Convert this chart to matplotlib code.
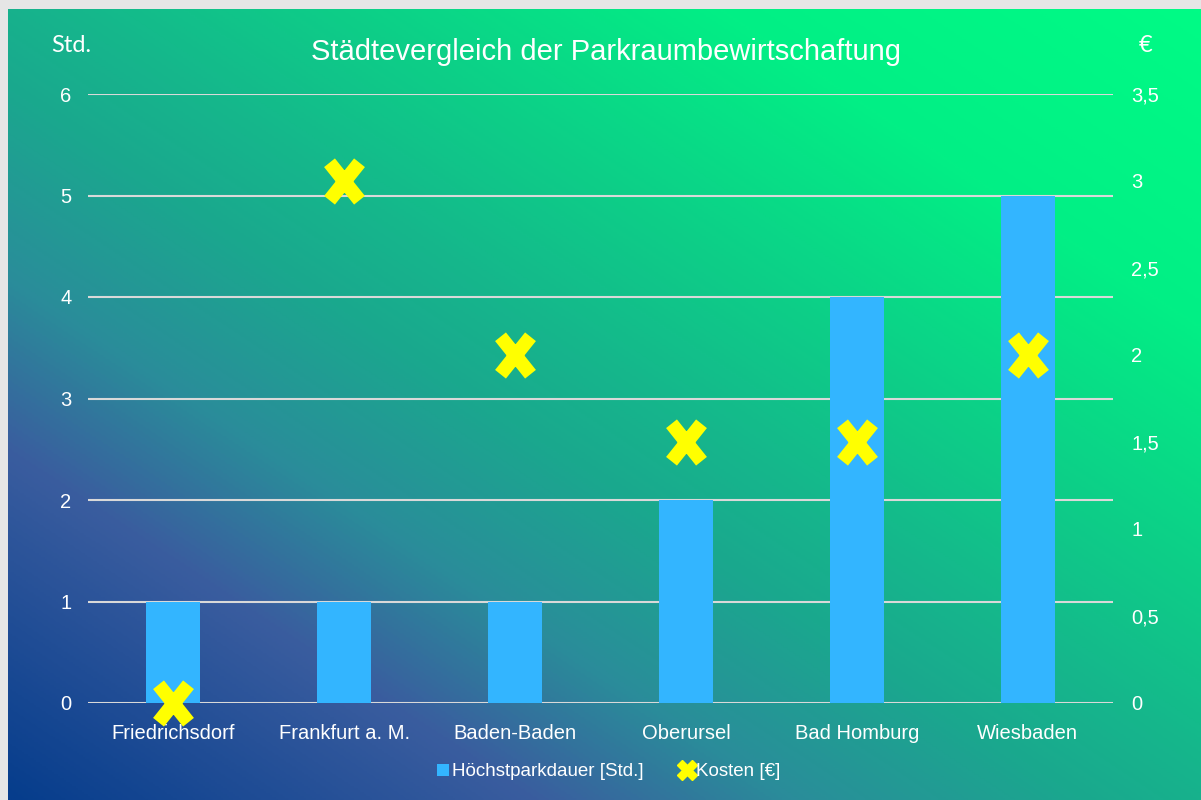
import numpy as np
import matplotlib
matplotlib.use("Agg")
import matplotlib.pyplot as plt
import matplotlib.colors as mcolors
from matplotlib.path import Path
from matplotlib.lines import Line2D
from matplotlib.patches import Patch

# data
staedte = ["Friedrichsdorf", "Frankfurt a. M.", "Baden-Baden", "Oberursel", "Bad Homburg", "Wiesbaden"]
hoechstparkdauer = [1, 1, 1, 2, 4, 5]        # Std.
kosten = [0, 3, 2, 1.5, 1.5, 2]              # EUR
std_ticks = [0, 1, 2, 3, 4, 5, 6]
eur_ticks = [0, 0.5, 1, 1.5, 2, 2.5, 3, 3.5]

NARROW = ["Liberation Sans Narrow", "Liberation Sans", "DejaVu Sans"]
plt.rcParams["font.family"] = NARROW

W, H = 1201, 800
fig = plt.figure(figsize=(W / 100, H / 100), dpi=100, facecolor="#e6e6e6")

# diagonal gradient background (dark blue bottom-left -> bright green top-right)
bg = fig.add_axes([8 / W, 0, 1 - 8 / W, (H - 9) / H])
bg.set_axis_off()
gx, gy = np.meshgrid(np.linspace(0, 1, 600), np.linspace(1, 0, 400))
t = (gx + gy) / 2
grad = mcolors.LinearSegmentedColormap.from_list("bg", [
    (0.0, "#063d8c"), (0.22, "#3a5d9f"), (0.33, "#2a8d9a"), (0.45, "#1aa88e"),
    (0.52, "#16b58c"), (0.63, "#0ecc88"), (0.8, "#02ef85"), (1.0, "#00fb85")])
bg.imshow(t, cmap=grad, aspect="auto", extent=[0, 1, 0, 1], vmin=0, vmax=1)

# main plot area
ax = fig.add_axes([88 / W, (H - 703) / H, (1113 - 88) / W, (703 - 94) / H])
ax.patch.set_alpha(0)
x = np.arange(len(staedte))
ax.bar(x, hoechstparkdauer, width=0.316, color="#33b5ff", zorder=2)
ax.set_xlim(-0.5, len(staedte) - 0.5)
ax.set_ylim(0, 6)
ax.set_yticks(std_ticks)
ax.set_yticklabels([str(v) for v in std_ticks])
ax.set_xticks(x)
ax.set_xticklabels(staedte)
ax.set_axisbelow(True)
ax.grid(axis="y", color="#d9d9d9", linewidth=1.5)
for s in ax.spines.values():
    s.set_visible(False)
ax.tick_params(length=0, colors="white", labelsize=14.5)
ax.tick_params(axis="x", pad=15)
ax.tick_params(axis="y", pad=12)

ax2 = ax.twinx()
ax2.set_ylim(0, 3.5)
ax2.set_yticks(eur_ticks)
ax2.set_yticklabels([f"{v:g}".replace(".", ",") for v in eur_ticks])
for s in ax2.spines.values():
    s.set_visible(False)
ax2.tick_params(length=0, colors="white", labelsize=14.5, pad=13)

# thick cross marker
cross = Path([(-0.8, -1), (0.8, 1), (-0.8, 1), (0.8, -1)],
             [Path.MOVETO, Path.LINETO, Path.MOVETO, Path.LINETO])
ax2.plot(x, kosten, linestyle="none", marker=cross, markersize=27,
         markeredgewidth=10, markeredgecolor="#ffff00", markerfacecolor="none",
         clip_on=False, zorder=5)

fig.text(606 / W, 1 - 52 / H, "Städtevergleich der Parkraumbewirtschaftung",
         ha="center", va="center", color="white", fontsize=21)
fig.text(71 / W, 1 - 46 / H, "Std.", ha="center", va="center", color="white",
         fontsize=17, family=["Lato", "DejaVu Sans"])
fig.text(1146 / W, 1 - 46 / H, "€", ha="center", va="center", color="white",
         fontsize=17, family=["Lato", "DejaVu Sans"])

handles = [Patch(facecolor="#33b5ff", edgecolor="none"),
           Line2D([], [], linestyle="none", marker="X", markersize=14,
                  color="#ffff00", markeredgecolor="#ffff00")]
fig.legend(handles, ["Höchstparkdauer [Std.]", "Kosten [€]"],
           loc="center", bbox_to_anchor=(609 / W, 1 - 772 / H), ncol=2,
           frameon=False, fontsize=13.5, labelcolor="white",
           handlelength=0.6, handleheight=0.6, handletextpad=0.2, columnspacing=2.0)

fig.savefig("out.png", dpi=100, facecolor=fig.get_facecolor())
